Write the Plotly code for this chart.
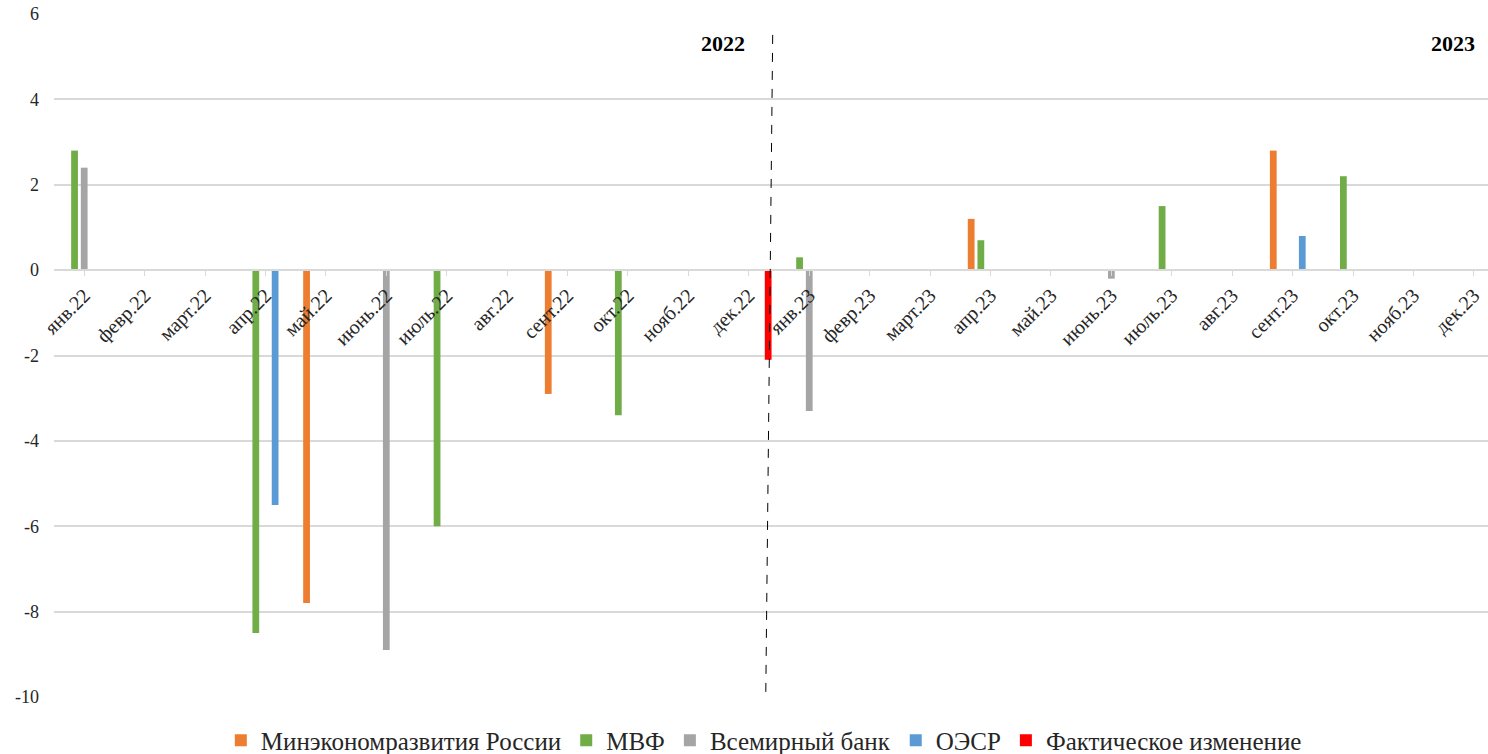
import plotly.graph_objects as go

categories = ["янв.22", "февр.22", "март.22", "апр.22", "май.22", "июнь.22", "июль.22", "авг.22",
              "сент.22", "окт.22", "нояб.22", "дек.22", "янв.23", "февр.23", "март.23", "апр.23",
              "май.23", "июнь.23", "июль.23", "авг.23", "сент.23", "окт.23", "нояб.23", "дек.23"]

minek = [None, None, None, None, -7.8, None, None, None, -2.9, None, None, None,
         None, None, None, 1.2, None, None, None, None, 2.8, None, None, None]
imf = [2.8, None, None, -8.5, None, None, -6.0, None, None, -3.4, None, None,
       0.3, None, None, 0.7, None, None, 1.5, None, None, 2.2, None, None]
wb = [2.4, None, None, None, None, -8.9, None, None, None, None, None, None,
      -3.3, None, None, None, None, -0.2, None, None, None, None, None, None]
oecd = [None, None, None, -5.5, None, None, None, None, None, None, None, None,
        None, None, None, None, None, None, None, None, 0.8, None, None, None]
actual = [None, None, None, None, None, None, None, None, None, None, None, -2.1,
          None, None, None, None, None, None, None, None, None, None, None, None]

y_ticks = [6, 4, 2, 0, -2, -4, -6, -8, -10]
y_tick_text = ["6", "4", "2", "0", "-2", "-4", "-6", "-8", "-10"]

series = [
    ("Минэкономразвития России", minek, "#ED7D31"),
    ("МВФ", imf, "#70AD47"),
    ("Всемирный банк", wb, "#A5A5A5"),
    ("ОЭСР", oecd, "#5B9BD5"),
    ("Фактическое изменение", actual, "#FF0000"),
]

FONT = "Liberation Serif"

fig = go.Figure()
for name, vals, color in series:
    fig.add_trace(go.Bar(x=list(range(len(categories))), y=vals, name=name,
                         marker=dict(color=color, line=dict(width=0))))

W, H = 1488, 754
left, top, bottom = 54, 14, 57
cat_px = 60.42
plot_w = W - left
x_end = -0.5 + plot_w / cat_px

fig.update_layout(
    width=W, height=H,
    margin=dict(l=left, r=0, t=top, b=bottom, pad=0, autoexpand=False),
    paper_bgcolor="white", plot_bgcolor="white",
    barmode="group", bargap=0.2, bargroupgap=0.3,
    font=dict(family=FONT, color="#262626", size=17),
    legend=dict(orientation="h", x=0.495, xanchor="center", y=-0.03, yanchor="top",
                font=dict(family=FONT, size=25, color="#262626"),
                itemwidth=30, traceorder="normal"),
    xaxis=dict(
        range=[-0.5, x_end], automargin=False,
        tickmode="array", tickvals=list(range(len(categories))), ticktext=categories,
        tickangle=-45, tickson="boundaries", ticks="outside", ticklen=5,
        tickcolor="#d9d9d9", showline=True, linecolor="#d9d9d9", linewidth=1.5,
        showgrid=False, zeroline=False,
        anchor="free", position=10 / 16,
        tickfont=dict(family=FONT, size=20, color="#262626"),
    ),
    yaxis=dict(
        range=[-10, 6], automargin=False,
        tickmode="array", tickvals=y_ticks, ticktext=y_tick_text,
        showgrid=True, gridcolor="#d9d9d9", gridwidth=1.5,
        zeroline=False, showline=False, ticks="",
        tickfont=dict(family=FONT, size=18, color="#262626"),
        ticklabelstandoff=14,
    ),
)

# Dashed separator between years
fig.add_shape(type="line", xref="x", yref="y", x0=11.395, y0=5.51, x1=11.28, y1=-10,
              line=dict(color="black", width=1, dash="dash"))

fig.add_annotation(x=10.57, y=5.3, xref="x", yref="y", text="<b>2022</b>", showarrow=False,
                   font=dict(family=FONT, size=22, color="black"))
fig.add_annotation(x=22.65, y=5.3, xref="x", yref="y", text="<b>2023</b>", showarrow=False,
                   font=dict(family=FONT, size=22, color="black"))

fig.write_html("out.html", config={"displayModeBar": False})

# remove the default page margin so the figure fills the window exactly
with open("out.html", encoding="utf-8") as f:
    html = f.read()
html = html.replace("<head>", "<head><style>html,body{margin:0;padding:0;overflow:hidden;}</style>", 1)
with open("out.html", "w", encoding="utf-8") as f:
    f.write(html)
